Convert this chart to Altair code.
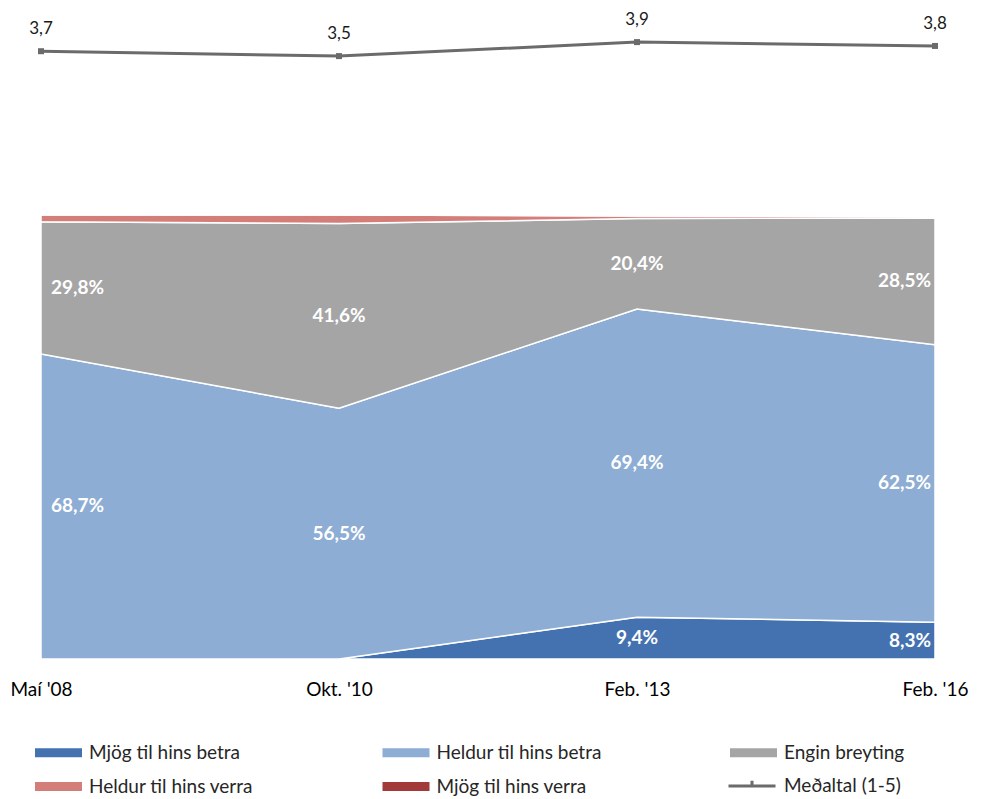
import altair as alt
import pandas as pd

dates = ["Maí '08", "Okt. '10", "Feb. '13", "Feb. '16"]
series = ["Mjög til hins betra", "Heldur til hins betra", "Engin breyting",
          "Heldur til hins verra", "Mjög til hins verra"]
colors = ["#4472B0", "#8DADD4", "#A5A5A5", "#D47E7A", "#A33A3A"]

mjog_betra = [0.0, 0.0, 9.4, 8.3]
heldur_betra = [68.7, 56.5, 69.4, 62.5]
engin_breyting = [29.8, 41.6, 20.4, 28.5]
heldur_verra = [1.5, 1.9, 0.6, 0.3]
mjog_verra = [0.0, 0.0, 0.0, 0.0]

mean_label = "Meðaltal (1-5)"
mean_vals = [3.68, 3.54, 3.94, 3.83]

FONT = "Lato, Open Sans, sans-serif"

rows = []
for si, (name, vals) in enumerate(zip(series, [mjog_betra, heldur_betra, engin_breyting, heldur_verra, mjog_verra])):
    for di, d in enumerate(dates):
        rows.append({"date": d, "series": name, "order": si, "value": vals[di], "pos": di})
df = pd.DataFrame(rows)
mean_df = pd.DataFrame({"date": dates, "mean": mean_vals, "series": mean_label, "pos": list(range(len(dates)))})

W, H = 894, 645
yscale = alt.Scale(domain=[0, 145.27], nice=False, zero=True)
mscale = alt.Scale(domain=[-13.686, 4.743], nice=False, zero=False)

XAXIS = alt.Axis(title=None, domain=False, ticks=False, grid=False, labelAngle=0,
                 labelFont=FONT, labelFontSize=19, labelFontWeight="normal", labelColor="#000000",
                 labelPadding=21, labelOverlap=False, labelFlush=False, labelBound=False)

def xenc():
    return alt.X("date:N", sort=dates, scale=alt.Scale(type="point", padding=0), axis=XAXIS)

base = alt.Chart(df).transform_stack(
    stack="value", groupby=["date"], sort=[alt.SortField("order", order="ascending")], as_=["y0", "y1"]
).transform_calculate(
    mid="(datum.y0 + datum.y1) / 2",
    lab="replace(format(datum.value, '.1f'), '.', ',') + '%'"
)

area = base.mark_area(stroke="white", strokeWidth=1.5, opacity=1).encode(
    x=xenc(),
    y=alt.Y("y1:Q", scale=yscale, axis=None),
    y2="y0:Q",
    fill=alt.Fill("series:N", sort=series, scale=alt.Scale(domain=series, range=colors),
                  legend=alt.Legend(orient="none", legendX=-6, legendY=715, title=None,
                                    direction="horizontal",
                                    columns=3, columnPadding=127.5, rowPadding=-15, gridAlign="all",
                                    padding=0, symbolType="M-1,-0.19H1V0.19H-1Z", symbolSize=2209,
                                    symbolStrokeWidth=0, symbolOpacity=1, labelFont=FONT,
                                    labelFontSize=19, labelColor="#262626", labelOffset=7,
                                    labelLimit=300)),
)

lab_base = base.transform_filter("datum.value > 0 && datum.order < 3")
txt_kw = dict(font=FONT, fontSize=19, fontWeight="bold", color="white", baseline="middle")
t_first = lab_base.transform_filter("datum.pos == 0").mark_text(align="left", dx=10, **txt_kw).encode(
    x=xenc(), y=alt.Y("mid:Q", scale=yscale, axis=None), text="lab:N")
t_mid = lab_base.transform_filter("datum.pos > 0 && datum.pos < 3").mark_text(align="center", **txt_kw).encode(
    x=xenc(), y=alt.Y("mid:Q", scale=yscale, axis=None), text="lab:N")
t_last = lab_base.transform_filter("datum.pos == 3").mark_text(align="right", dx=-4, **txt_kw).encode(
    x=xenc(), y=alt.Y("mid:Q", scale=yscale, axis=None), text="lab:N")

mbase = alt.Chart(mean_df)
line = mbase.mark_line(strokeWidth=3).encode(
    x=xenc(),
    y=alt.Y("mean:Q", scale=mscale, axis=None),
    stroke=alt.Stroke("series:N", scale=alt.Scale(domain=[mean_label], range=["#6B6B6B"]),
                      legend=alt.Legend(orient="none", legendX=686, legendY=747, title=None,
                                        padding=0, symbolType="M-1,0H1M0,0V-0.22", symbolSize=2209,
                                        symbolStrokeWidth=3, labelFont=FONT, labelFontSize=19,
                                        labelColor="#262626", labelOffset=7)),
)
pts = mbase.mark_point(shape="square", filled=True, size=36, color="#6B6B6B", opacity=1).encode(
    x=xenc(), y=alt.Y("mean:Q", scale=mscale, axis=None))
mlab = mbase.transform_calculate(
    lab="replace(format(datum.mean, '.1f'), '.', ',')"
).mark_text(font=FONT, fontSize=17, color="#1a1a1a", dy=-22, baseline="middle").encode(
    x=xenc(), y=alt.Y("mean:Q", scale=mscale, axis=None), text="lab:N")

chart = alt.layer(area, t_first, t_mid, t_last, line, pts, mlab).resolve_scale(
    y="independent"
).properties(
    width=W, height=H,
    padding={"left": 33, "top": 6, "right": 38, "bottom": 138},
    autosize=alt.AutoSizeParams(type="none"),
).configure_view(stroke=None)

chart.save("out.html", embed_options={"renderer": "svg", "actions": False})
